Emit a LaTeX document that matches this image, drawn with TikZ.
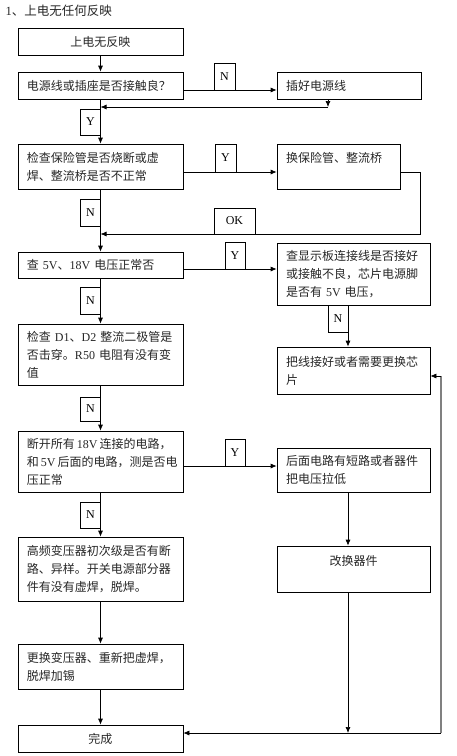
\documentclass[tikz,border=0pt]{standalone}
\usepackage{fontspec}
\setmainfont{Noto Sans CJK SC}
\newfontfamily\enfont{Liberation Serif}
\newcommand{\en}[1]{{\enfont #1}}
\usetikzlibrary{arrows.meta}
\tikzset{
  box/.style={draw, line width=0.7pt, inner xsep=9pt, inner ysep=0pt, align=left,
    font=\fontsize{12}{18}\selectfont, text=black!85},
  lbox/.style={box, text width=147pt},
  rbox/.style={box, text width=135pt},
  tag/.style={draw, line width=0.7pt, minimum width=20pt, minimum height=27pt, inner sep=0pt,
    font=\enfont\fontsize{12}{14}\selectfont},
}
\begin{document}
\begin{tikzpicture}[x=1pt, y=-1pt, >={Latex[length=6pt,width=5pt]}, line width=0.7pt]
  \useasboundingbox (0,0) rectangle (457,756);
  \node[anchor=west, font=\fontsize{12.5}{14}\selectfont, text=black!85] (title) at (2,11) {\en{1}、上电无任何反映};

  \node[lbox, align=center, minimum height=27pt] (start) at (100.5,41.5) {上电无反映};
  \node[lbox, minimum height=27pt] (plug) at (100.5,85.5) {电源线或插座是否接触良？};
  \node[box, text width=126pt, minimum height=27pt] (replug) at (349,85.5) {插好电源线};
  \node[lbox, minimum height=45pt] (fuse) at (100.5,166.5) {检查保险管是否烧断或虚\\焊、整流桥是否不正常};
  \node[box, text width=105pt, minimum height=45pt] (newfuse) at (338.5,166.5) {换保险管、整流桥\\\mbox{}};
  \node[lbox, minimum height=26pt] (volt) at (100.5,265) {查 \en{5V}、\en{18V} 电压正常否};
  \node[rbox, minimum height=62pt] (disp) at (353.5,274) {查显示板连接线是否接好\\或接触不良，芯片电源脚\\是否有 \en{5V} 电压，};
  \node[rbox, minimum height=47pt] (chip) at (353.5,370.5) {把线接好或者需要更换芯\\片};
  \node[lbox, minimum height=61pt] (diode) at (100.5,354.5) {检查 \en{D1}、\en{D2} 整流二极管是\\否击穿。\en{R50} 电阻有没有变\\值};
  \node[lbox, minimum height=61pt] (cut) at (100.5,461.5) {断开所有\,\en{18V}\,连接的电路，\\和\,\en{5V}\,后面的电路，测是否电\\压正常};
  \node[rbox, minimum height=44pt] (short) at (353.5,470) {后面电路有短路或者器件\\把电压拉低};
  \node[lbox, minimum height=64pt] (trans) at (100.5,569) {高频变压器初次级是否有断\\路、异样。开关电源部分器\\件有没有虚焊，脱焊。};
  \node[rbox, align=center, minimum height=46pt] (parts) at (353.5,569) {改换器件\\\mbox{}};
  \node[lbox, minimum height=45pt] (resolder) at (100.5,666.5) {更换变压器、重新把虚焊，\\脱焊加锡};
  \node[lbox, align=center, minimum height=27pt] (done) at (100.5,738.5) {完成};

  \node[tag, minimum width=21pt] (n1) at (224.5,76.5) {N};
  \node[tag, minimum height=26pt] (y1) at (90.5,122) {Y};
  \node[tag, minimum width=21pt, minimum height=28pt] (y2) at (225.5,158) {Y};
  \node[tag] (n2) at (90.5,212.5) {N};
  \node[tag, minimum width=41pt, minimum height=26pt] (ok) at (234.5,221) {OK};
  \node[tag] (y3) at (235,255.5) {Y};
  \node[tag] (n3) at (90.5,300.5) {N};
  \node[tag] (n4) at (338,318.5) {N};
  \node[tag, minimum height=24pt] (n5) at (90.5,409) {N};
  \node[tag] (y4) at (235,452.5) {Y};
  \node[tag, minimum height=26pt] (n6) at (90.5,515) {N};

  \draw[->] (start) -- (plug);
  \draw[->] (plug.east |- 0,90) -- (replug.west |- 0,90);
  \coordinate (back1) at (328,107);
  \draw[->] (replug.south -| back1) -- (back1);
  \draw[->] (back1) -- (back1 -| plug.south);
  \draw[->] (plug) -- (fuse);
  \draw[->] (fuse.east |- 0,172) -- (newfuse.west |- 0,172);
  \coordinate (back2) at (420,234);
  \draw[->] (newfuse.east |- 0,172) -| (back2) -- (back2 -| fuse.south);
  \draw[->] (fuse) -- (volt);
  \draw[->] (volt.east |- 0,269) -- (disp.west |- 0,269);
  \draw[->] (disp.south -| 348,0) -- (chip.north -| 348,0);
  \draw[->] (volt) -- (diode);
  \draw[->] (diode) -- (cut);
  \draw[->] (cut.east |- 0,466) -- (short.west |- 0,466);
  \draw[->] (short.south -| 348,0) -- (parts.north -| 348,0);
  \draw[->] (cut) -- (trans);
  \draw[->] (trans) -- (resolder);
  \draw[->] (resolder) -- (done);
  \coordinate (low) at (348,733);
  \coordinate (corner) at (441,733);
  \draw[->] (parts.south -| low) -- (low);
  \draw[->] (corner) -- (done.east |- corner);
  \draw[gray, line width=1.2pt] (corner) -- (corner |- 0,376);
  \draw[->] (corner |- 0,376) -- (chip.east |- 0,376);
\end{tikzpicture}
\end{document}
